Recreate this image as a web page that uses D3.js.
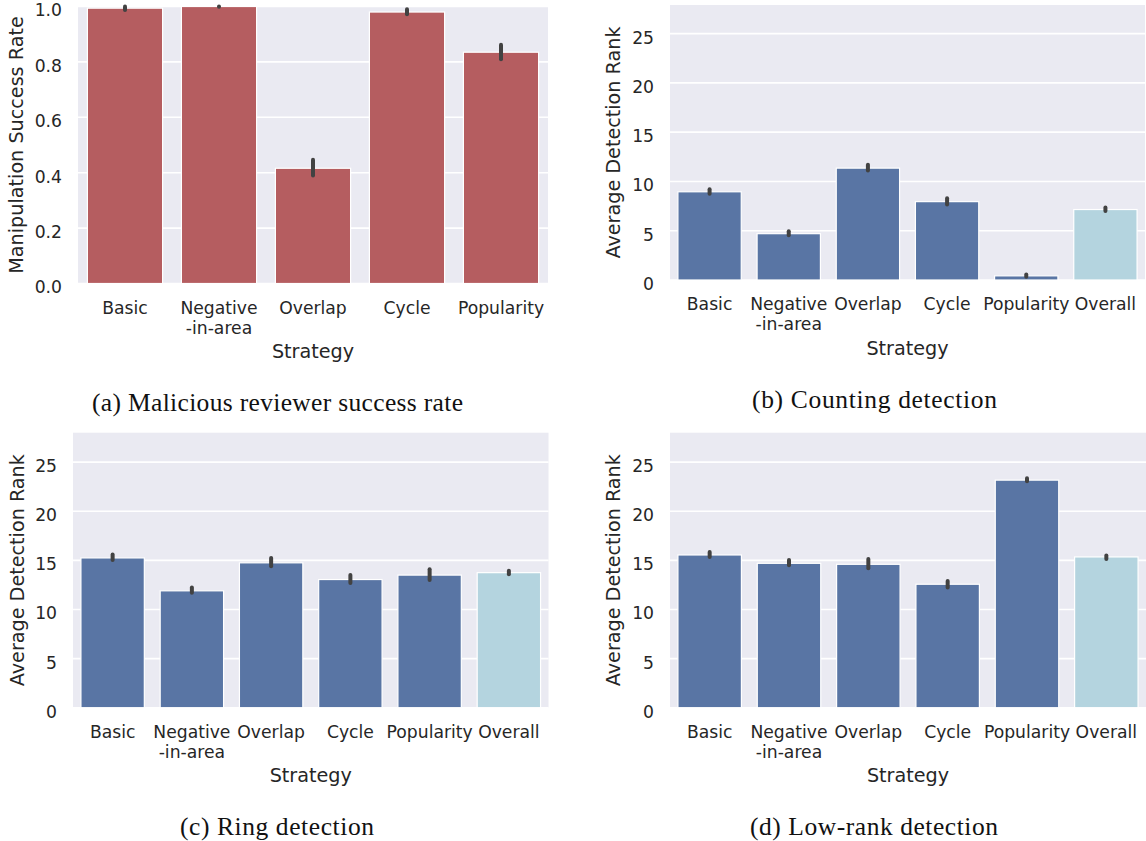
<!DOCTYPE html>
<html><head><meta charset="utf-8">
<script src="https://cdn.jsdelivr.net/npm/d3@7"></script>
<style>html,body{margin:0;padding:0;background:#fff;}svg{display:block;}</style>
</head><body>
<svg id="fig" width="1146" height="841"></svg>
<script>
// ---------- data ----------
const strategiesA = ["Basic", "Negative\n-in-area", "Overlap", "Cycle", "Popularity"];
const strategiesBCD = ["Basic", "Negative\n-in-area", "Overlap", "Cycle", "Popularity", "Overall"];

const successRate   = [0.994, 1.0, 0.416, 0.98, 0.835];
const successLo     = [0.987, 0.999, 0.39, 0.972, 0.81];
const successHi     = [1.0, 1.0, 0.447, 0.99, 0.862];

const countingRank  = [8.95, 4.7, 11.35, 7.95, 0.42, 7.15];
const countingLo    = [8.75, 4.55, 11.1, 7.65, 0.32, 7.0];
const countingHi    = [9.2, 4.95, 11.7, 8.3, 0.55, 7.35];

const ringRank      = [15.25, 11.9, 14.75, 13.05, 13.5, 13.75];
const ringLo        = [15.05, 11.7, 14.4, 12.7, 13.0, 13.6];
const ringHi        = [15.6, 12.25, 15.25, 13.5, 14.1, 13.95];

const lowRankRank   = [15.55, 14.7, 14.6, 12.57, 23.17, 15.35];
const lowRankLo     = [15.35, 14.5, 14.2, 12.25, 23.05, 15.15];
const lowRankHi     = [15.85, 15.05, 15.15, 12.9, 23.35, 15.5];

const ticksA = [0, 0.2, 0.4, 0.6, 0.8, 1.0];
const ticksRank = [0, 5, 10, 15, 20, 25];

const captions = ["(a) Malicious reviewer success rate", "(b) Counting detection", "(c) Ring detection", "(d) Low-rank detection"];

// ---------- style ----------
const BG = "#eaeaf2", TXT = "#262626", ERR = "#424242";
const RED = "#b55d60", BLUE = "#5975a4", LIGHT = "#b4d4df";
const SANS = "DejaVu Sans", SERIF = "Liberation Serif";

const svg = d3.select("#fig");

const panels = [
  {cats: strategiesA, vals: successRate, lo: successLo, hi: successHi, ticks: ticksA, fmt: d3.format(".1f"),
   domain: [0, 1.0], x0: 78, x1: 548, top: 6.5, bot: 283.5, ylabel: "Manipulation Success Rate", ylabX: 23,
   colors: () => RED, cap: captions[0], capX: 277.5, capY: 411, capW: 371},
  {cats: strategiesBCD, vals: countingRank, lo: countingLo, hi: countingHi, ticks: ticksRank, fmt: d3.format("d"),
   domain: [0, 27.9], x0: 670, x1: 1145, top: 5, bot: 280, ylabel: "Average Detection Rank", ylabX: 620,
   colors: (i) => i === 5 ? LIGHT : BLUE, cap: captions[1], capX: 874.5, capY: 408, capW: 245},
  {cats: strategiesBCD, vals: ringRank, lo: ringLo, hi: ringHi, ticks: ticksRank, fmt: d3.format("d"),
   domain: [0, 28], x0: 73, x1: 548.5, top: 432.7, bot: 707.7, ylabel: "Average Detection Rank", ylabX: 24,
   colors: (i) => i === 5 ? LIGHT : BLUE, cap: captions[2], capX: 277, capY: 835, capW: 194},
  {cats: strategiesBCD, vals: lowRankRank, lo: lowRankLo, hi: lowRankHi, ticks: ticksRank, fmt: d3.format("d"),
   domain: [0, 28], x0: 670, x1: 1146, top: 432.7, bot: 707.7, ylabel: "Average Detection Rank", ylabX: 620,
   colors: (i) => i === 5 ? LIGHT : BLUE, cap: captions[3], capX: 874, capY: 835, capW: 248}
];

panels.forEach(p => {
  const g = svg.append("g");
  const x = d3.scaleBand().domain(p.cats).range([p.x0, p.x1]).paddingInner(0.2).paddingOuter(0.1);
  const y = d3.scaleLinear().domain(p.domain).range([p.bot, p.top]);

  g.append("rect").attr("x", p.x0).attr("y", p.top).attr("width", p.x1 - p.x0).attr("height", p.bot - p.top).attr("fill", BG);

  // grid
  g.selectAll(".grid").data(p.ticks).join("line")
    .attr("x1", p.x0).attr("x2", p.x1)
    .attr("y1", d => y(d)).attr("y2", d => y(d))
    .attr("stroke", "#fff").attr("stroke-width", 1.6);

  // y axis
  const yAxis = d3.axisLeft(y).tickValues(p.ticks).tickFormat(p.fmt).tickSize(0).tickPadding(16);
  const ya = g.append("g").attr("transform", `translate(${p.x0},0)`).call(yAxis);
  ya.select(".domain").remove();
  ya.selectAll("text").attr("font-family", SANS).attr("font-size", 17.2).attr("fill", TXT).attr("dy", "0.55em");

  // x axis
  const xAxis = d3.axisBottom(x).tickSize(0).tickFormat("");
  const xa = g.append("g").attr("transform", `translate(0,${p.bot})`).call(xAxis);
  xa.select(".domain").remove();
  xa.selectAll(".tick").each(function(d) {
    const t = d3.select(this).append("text").attr("fill", TXT).attr("font-family", SANS)
      .attr("font-size", 17.2).attr("text-anchor", "middle");
    d.split("\n").forEach((line, k) => {
      t.append("tspan").attr("x", 0).attr("y", 30 + k * 20).text(line);
    });
  });

  // bars
  g.selectAll(".bar").data(p.cats).join("rect")
    .attr("x", d => x(d)).attr("width", x.bandwidth())
    .attr("y", (d, i) => y(p.vals[i])).attr("height", (d, i) => y(0) - y(p.vals[i]))
    .attr("fill", (d, i) => p.colors(i)).attr("stroke", "#fff").attr("stroke-width", 1.2);

  // error bars
  g.selectAll(".err").data(p.cats).join("line")
    .attr("x1", d => x(d) + x.bandwidth() / 2).attr("x2", d => x(d) + x.bandwidth() / 2)
    .attr("y1", (d, i) => y(p.lo[i])).attr("y2", (d, i) => y(p.hi[i]))
    .attr("stroke", ERR).attr("stroke-width", 4).attr("stroke-linecap", "round");

  // axis labels
  g.append("text").attr("x", (p.x0 + p.x1) / 2).attr("y", p.bot + 74.5)
    .attr("text-anchor", "middle").attr("font-family", SANS).attr("font-size", 19.2).attr("fill", TXT).text("Strategy");
  g.append("text").attr("transform", `translate(${p.ylabX},${(p.top + p.bot) / 2}) rotate(-90)`)
    .attr("text-anchor", "middle").attr("font-family", SANS).attr("font-size", 19.2).attr("fill", TXT).text(p.ylabel);

  // caption
  g.append("text").attr("x", p.capX).attr("y", p.capY).attr("text-anchor", "middle")
    .attr("font-family", SERIF).attr("font-size", 25.5).attr("fill", "#111")
    .attr("textLength", p.capW).attr("lengthAdjust", "spacing").text(p.cap);
});
</script>
</body></html>
